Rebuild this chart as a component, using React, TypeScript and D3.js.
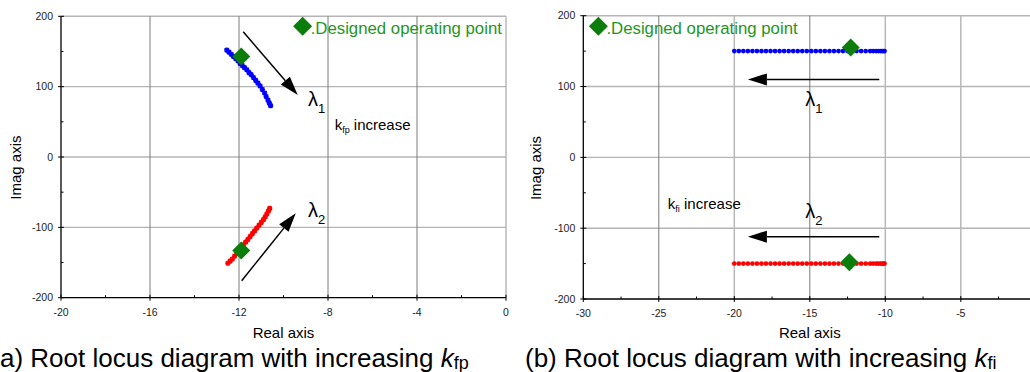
import React from 'react';
import * as d3 from 'd3';

// panel (a): eigenvalue locus when k_fp increases
const locusA1 = [
  [-12.55, 152], [-12.45, 149], [-12.35, 146], [-12.25, 143], [-12.15, 140], [-12.05, 137],
  [-11.95, 133], [-11.85, 130], [-11.75, 127], [-11.65, 124], [-11.55, 120], [-11.45, 117],
  [-11.35, 113], [-11.25, 109], [-11.15, 105], [-11.05, 101], [-10.95, 96], [-10.85, 91],
  [-10.78, 86], [-10.7, 81], [-10.64, 77], [-10.58, 73],
];
const locusA2 = [
  [-12.5, -151], [-12.4, -148], [-12.3, -145], [-12.2, -141], [-12.1, -137], [-12.0, -133],
  [-11.9, -129], [-11.8, -125], [-11.7, -121], [-11.6, -117], [-11.5, -113], [-11.4, -109],
  [-11.3, -105], [-11.2, -101], [-11.1, -97], [-11.0, -93], [-10.9, -89], [-10.82, -85],
  [-10.75, -81], [-10.68, -77], [-10.62, -73],
];
const designA = [[-11.9, 143], [-11.9, -133]];
const arrowsA = [
  [[-11.81, 178], [-9.36, 88]],
  [[-11.88, -176], [-9.45, -80]],
];

// panel (b): eigenvalue locus when k_fi increases
const locusBx = [
  -20, -19.7, -19.4, -19.1, -18.8, -18.5, -18.2, -17.9, -17.6, -17.3, -17, -16.7, -16.4, -16.1,
  -15.8, -15.5, -15.2, -14.9, -14.6, -14.3, -14, -13.7, -13.4, -13.1, -12.8, -12.5, -12.2, -11.9,
  -11.6, -11.3, -11, -10.8, -10.6, -10.45, -10.3, -10.2, -10.1, -10.05,
];
const locusB1y = 150;
const locusB2y = -150;
const designB = [[-12.29, 155], [-12.38, -148]];
const arrowsB = [
  [[-10.4, 110], [-19.1, 110]],
  [[-10.4, -112], [-19.1, -112]],
];

const xTicksA = [-20, -16, -12, -8, -4, 0];
const xTicksB = [-30, -25, -20, -15, -10, -5];
const yTicks = [-200, -100, 0, 100, 200];

const FONT = 'Arial, "Liberation Sans", sans-serif';
const GREEN = '#0b7d0b';

function Arrow({ x1, y1, x2, y2 }) {
  const a = Math.atan2(y2 - y1, x2 - x1);
  const len = 19;
  const w = 6;
  const bx = x2 - len * Math.cos(a);
  const by = y2 - len * Math.sin(a);
  const px = -Math.sin(a) * w;
  const py = Math.cos(a) * w;
  return (
    <g>
      <line x1={x1} y1={y1} x2={bx} y2={by} stroke="#000" strokeWidth={1.5} />
      <path d={`M${x2},${y2}L${bx + px},${by + py}L${bx - px},${by - py}Z`} fill="#000" />
    </g>
  );
}

function Diamond({ x, y, r }) {
  return <path d={`M${x},${y - r}L${x + r},${y}L${x},${y + r}L${x - r},${y}Z`} fill={GREEN} />;
}

function Frame({ x, y, xTicks, gridX, lightX, minorX, minorY, clipRight }) {
  const [x0] = x.domain();
  const [y0] = y.domain();
  const left = x(x0);
  const bottom = y(y0);
  const right = Math.min(x.range()[1], clipRight);
  return (
    <g fontFamily={FONT}>
      {yTicks.filter(t => t !== -200).map(t => (
        <line key={'gy' + t} x1={left} x2={right} y1={y(t)} y2={y(t)} stroke="#b4b4b4" strokeWidth={1.4} />
      ))}
      {gridX.map(t => (
        <line key={'gx' + t} x1={x(t)} x2={x(t)} y1={y(200)} y2={bottom}
          stroke={lightX.includes(t) ? '#b8b8b8' : '#7a7a7a'} strokeWidth={lightX.includes(t) ? 1.5 : 1} />
      ))}
      <line x1={left} x2={left} y1={y(200)} y2={bottom} stroke="#000" strokeWidth={1.3} />
      <line x1={left} x2={right} y1={bottom} y2={bottom} stroke="#000" strokeWidth={1.3} />
      {yTicks.map(t => (
        <g key={'ty' + t}>
          <line x1={left - 3} x2={left + 3} y1={y(t)} y2={y(t)} stroke="#000" />
          <text x={left - 8} y={y(t) + 3.5} fontSize={10.5} textAnchor="end" fill="#222">{t}</text>
        </g>
      ))}
      {minorY.map(t => (
        <line key={'my' + t} x1={left} x2={left + 2.5} y1={y(t)} y2={y(t)} stroke="#000" />
      ))}
      {xTicks.map(t => (
        <g key={'tx' + t}>
          <line x1={x(t)} x2={x(t)} y1={bottom - 3} y2={bottom + 3} stroke="#000" />
          <text x={x(t)} y={bottom + 18} fontSize={10.5} textAnchor="middle" fill="#222">{t}</text>
        </g>
      ))}
      {minorX.map(t => (
        <line key={'mx' + t} x1={x(t)} x2={x(t)} y1={bottom} y2={bottom - 2.5} stroke="#000" />
      ))}
    </g>
  );
}

function Legend({ x, y }) {
  return (
    <g>
      <Diamond x={x} y={y} r={9.5} />
      <text x={x + 8} y={y + 8} fontFamily={FONT} fontSize={16.8} fill="#1e961e">.Designed operating point</text>
    </g>
  );
}

function Lambda({ x, y, n }) {
  return (
    <text x={x} y={y} fontFamily={FONT} fontSize={20} fill="#000">
      λ<tspan fontSize={13} dy={7}>{n}</tspan>
    </text>
  );
}

function KLabel({ x, y, sub }) {
  return (
    <text x={x} y={y} fontFamily={FONT} fontSize={15} fill="#000">
      k<tspan fontSize={9} dy={3}>{sub}</tspan><tspan dy={-3}> increase</tspan>
    </text>
  );
}

function Caption({ x, y, pre, sub }) {
  return (
    <text x={x} y={y} fontFamily={FONT} fontSize={26} fill="#000">
      {pre}<tspan fontStyle="italic">k</tspan><tspan fontSize={18} dy={2}>{sub}</tspan>
    </text>
  );
}

export default function App() {
  const xA = d3.scaleLinear().domain([-20, 0]).range([61, 506]);
  const yA = d3.scaleLinear().domain([-200, 200]).range([297.7, 16.3]);
  const xB = d3.scaleLinear().domain([-30, 0]).range([583.3, 1036.3]);
  const yB = d3.scaleLinear().domain([-200, 200]).range([299, 15.7]);

  const cross = (px, py, color, key) => (
    <path key={key} d={`M${px - 2.6},${py}h5.2M${px},${py - 2.6}v5.2M${px - 2},${py - 2}l4,4M${px + 2},${py - 2}l-4,4`}
      stroke={color} strokeWidth={1.6} />
  );

  return (
    <svg width={1030} height={372} style={{ position: 'absolute', left: 0, top: 0, background: '#fff' }}>
      {/* panel (a) */}
      <Frame x={xA} y={yA} xTicks={xTicksA} gridX={[-16, -12, -8, -4, 0]} lightX={[0]}
        minorX={[-18, -14, -10, -6, -2]} minorY={[-150, -50, 50, 150]} clipRight={1030} />
      <Legend x={xA(-9.14)} y={yA(186)} />
      {locusA1.map((d, i) => cross(xA(d[0]), yA(d[1]), '#0000ff', 'a1' + i))}
      {locusA2.map((d, i) => cross(xA(d[0]), yA(d[1]), '#ff0000', 'a2' + i))}
      {designA.map((d, i) => <Diamond key={'da' + i} x={xA(d[0])} y={yA(d[1])} r={9} />)}
      {arrowsA.map((d, i) => (
        <Arrow key={'aa' + i} x1={xA(d[0][0])} y1={yA(d[0][1])} x2={xA(d[1][0])} y2={yA(d[1][1])} />
      ))}
      <Lambda x={xA(-8.9)} y={yA(73)} n="1" />
      <Lambda x={xA(-8.9)} y={yA(-85)} n="2" />
      <KLabel x={xA(-7.7)} y={yA(38)} sub="fp" />
      <text x={xA(-10)} y={338} fontFamily={FONT} fontSize={15} textAnchor="middle">Real axis</text>
      <text transform={`translate(21,${yA(-15)}) rotate(-90)`} fontFamily={FONT} fontSize={15} textAnchor="middle">Imag axis</text>
      <Caption x={0} y={367} pre="a) Root locus diagram with increasing " sub="fp" />

      {/* panel (b) */}
      <Frame x={xB} y={yB} xTicks={xTicksB} gridX={[-25, -20, -15, -10, -5]} lightX={[-20, -10, -5]}
        minorX={[-27.5, -22.5, -17.5, -12.5, -7.5, -2.5]} minorY={[-150, -50, 50, 150]} clipRight={1030} />
      <Legend x={xB(-29)} y={yB(185)} />
      {locusBx.map((v, i) => (
        <circle key={'b1' + i} cx={xB(v)} cy={yB(locusB1y)} r={2.4} fill="#0000ff" />
      ))}
      {locusBx.map((v, i) => (
        <circle key={'b2' + i} cx={xB(v)} cy={yB(locusB2y)} r={2.4} fill="#ff0000" />
      ))}
      {designB.map((d, i) => <Diamond key={'db' + i} x={xB(d[0])} y={yB(d[1])} r={9} />)}
      {arrowsB.map((d, i) => (
        <Arrow key={'ab' + i} x1={xB(d[0][0])} y1={yB(d[0][1])} x2={xB(d[1][0])} y2={yB(d[1][1])} />
      ))}
      <Lambda x={xB(-15.3)} y={yB(73)} n="1" />
      <Lambda x={xB(-15.3)} y={yB(-85)} n="2" />
      <KLabel x={xB(-24.4)} y={yB(-73)} sub="fi" />
      <text x={xB(-15)} y={338} fontFamily={FONT} fontSize={15} textAnchor="middle">Real axis</text>
      <text transform={`translate(541,${yB(-15)}) rotate(-90)`} fontFamily={FONT} fontSize={15} textAnchor="middle">Imag axis</text>
      <Caption x={525} y={367} pre="(b) Root locus diagram with increasing " sub="fi" />
    </svg>
  );
}
